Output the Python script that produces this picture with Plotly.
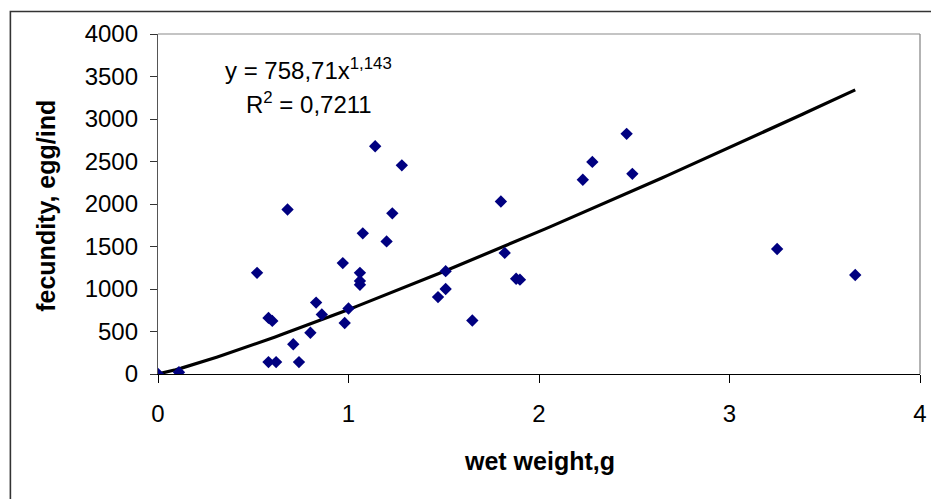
import numpy as np
import plotly.graph_objects as go

# Data
wet_weight = [0.00, 0.11, 0.52, 0.58, 0.60, 0.58, 0.62, 0.68, 0.71, 0.74,
              0.80, 0.83, 0.86, 0.97, 0.98, 1.00, 1.06, 1.06, 1.06, 1.075,
              1.14, 1.20, 1.23, 1.28, 1.47, 1.51, 1.51, 1.65, 1.80, 1.82,
              1.88, 1.90, 2.23, 2.28, 2.46, 2.49, 3.25, 3.66]
fecundity = [0, 20, 1190, 660, 625, 140, 140, 1935, 350, 140,
             485, 840, 700, 1305, 600, 770, 1050, 1095, 1190, 1655,
             2680, 1560, 1890, 2455, 905, 1210, 1000, 630, 2030, 1425,
             1120, 1110, 2285, 2495, 2825, 2355, 1470, 1165]

# Power trendline as printed on the chart
trend_a = 758.71
trend_b = 1.143
trend_r2 = 0.7211
trend_x_max = 3.66

x_ticks = [0, 1, 2, 3, 4]
y_ticks = [0, 500, 1000, 1500, 2000, 2500, 3000, 3500, 4000]

tx = np.linspace(0, trend_x_max, 120)
ty = trend_a * tx ** trend_b

FONT = "Liberation Sans, Arial, sans-serif"

fig = go.Figure()
fig.add_trace(go.Scatter(x=tx, y=ty, mode="lines",
                         line=dict(color="black", width=3.2),
                         hoverinfo="skip", showlegend=False))
fig.add_trace(go.Scatter(x=wet_weight, y=fecundity, mode="markers",
                         marker=dict(symbol="diamond", size=9.5, color="#000080",
                                     line=dict(width=0)),
                         showlegend=False))

# page body has an 8px margin; work in screen pixels and convert
OFF = 8
W, H = 939 - OFF, 499 - OFF
plot_left, plot_right, plot_top, plot_bottom = 158, 922, 33, 374  # screen px
L = plot_left - OFF
T = plot_top - OFF
R = W - (plot_right - OFF)
B = H - (plot_bottom - OFF)
pw, ph = plot_right - plot_left, plot_bottom - plot_top

def sx(px):  # screen px -> paper x
    return (px - plot_left) / pw

def sy(py):  # screen px -> paper y
    return (plot_bottom - py) / ph

fig.update_layout(
    width=W, height=H, autosize=False,
    margin=dict(l=L, r=R, t=T, b=B, pad=0),
    paper_bgcolor="white", plot_bgcolor="white",
    font=dict(family=FONT, size=24, color="black"),
    xaxis=dict(range=[0, 4], tickvals=x_ticks, ticktext=[str(v) for v in x_ticks],
               showgrid=False, zeroline=False, showline=True, linecolor="black",
               linewidth=1.3, ticks="outside", ticklen=8, tickcolor="black",
               tickwidth=1, ticklabelstandoff=10,
               tickfont=dict(family=FONT, size=24, color="black")),
    yaxis=dict(range=[0, 4000], tickvals=y_ticks, ticktext=[str(v) for v in y_ticks],
               showgrid=False, zeroline=False, showline=True, linecolor="#555555",
               linewidth=1.3, ticks="outside", ticklen=7, tickcolor="#333333",
               tickwidth=1, ticklabelstandoff=7,
               tickfont=dict(family=FONT, size=24, color="black")),
    shapes=[
        # plot-area border (top and right)
        dict(type="line", xref="paper", yref="paper", x0=0, x1=1, y0=1, y1=1,
             line=dict(color="#b0b0b0", width=1.5)),
        dict(type="line", xref="paper", yref="paper", x0=1, x1=1, y0=0, y1=1,
             line=dict(color="#8a8a8a", width=1.3)),
        # outer chart frame (right and bottom edges fall outside the picture)
        dict(type="rect", xref="paper", yref="paper",
             x0=sx(10), x1=sx(960), y0=sy(520), y1=sy(10.5),
             line=dict(color="#333333", width=1.6), fillcolor="rgba(0,0,0,0)",
             layer="below"),
    ],
    annotations=[
        dict(text="y = 758,71x<sup>1,143</sup>", xref="x", yref="y",
             x=0.79, y=3590, showarrow=False, xanchor="center", yanchor="middle",
             font=dict(family=FONT, size=24, color="black")),
        dict(text="R<sup>2</sup> = 0,7211", xref="x", yref="y",
             x=0.79, y=3185, showarrow=False, xanchor="center", yanchor="middle",
             font=dict(family=FONT, size=24, color="black")),
        dict(text="<b>wet weight,g</b>", xref="paper", yref="paper",
             x=sx(541), y=sy(461), showarrow=False,
             xanchor="center", yanchor="middle",
             font=dict(family=FONT, size=25, color="black")),
        dict(text="<b>fecundity, egg/ind</b>", xref="paper", yref="paper",
             x=sx(46), y=sy(205), showarrow=False,
             textangle=-90, xanchor="center", yanchor="middle",
             font=dict(family=FONT, size=25, color="black")),
    ],
)

fig.write_html("out.html")
